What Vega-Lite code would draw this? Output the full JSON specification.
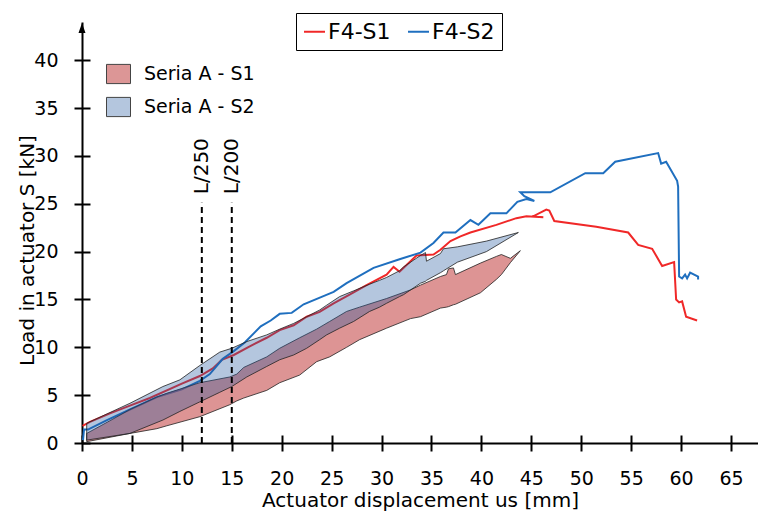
{
  "$schema": "https://vega.github.io/schema/vega-lite/v6.json",
  "width": 676,
  "height": 421,
  "autosize": {"type": "none"},
  "padding": {"left": 82, "top": 22, "right": 0, "bottom": 68},
  "datasets": {
    "lines": [
      {"s":"F4-S1","i":0,"x":0.05,"y":1.8},{"s":"F4-S1","i":1,"x":0.8,"y":2.2},{"s":"F4-S1","i":2,"x":2.8,"y":3.1},{"s":"F4-S1","i":3,"x":4.8,"y":3.9},{"s":"F4-S1","i":4,"x":6.8,"y":4.7},{"s":"F4-S1","i":5,"x":10.0,"y":6.2},{"s":"F4-S1","i":6,"x":11.8,"y":7.0},{"s":"F4-S1","i":7,"x":13.1,"y":7.8},{"s":"F4-S1","i":8,"x":14.0,"y":8.7},{"s":"F4-S1","i":9,"x":15.2,"y":9.2},{"s":"F4-S1","i":10,"x":16.8,"y":10.1},{"s":"F4-S1","i":11,"x":18.5,"y":11.0},{"s":"F4-S1","i":12,"x":19.8,"y":11.8},{"s":"F4-S1","i":13,"x":21.2,"y":12.3},{"s":"F4-S1","i":14,"x":22.5,"y":13.2},{"s":"F4-S1","i":15,"x":23.8,"y":13.7},{"s":"F4-S1","i":16,"x":25.2,"y":14.6},{"s":"F4-S1","i":17,"x":26.8,"y":15.5},{"s":"F4-S1","i":18,"x":28.5,"y":16.5},{"s":"F4-S1","i":19,"x":30.5,"y":17.6},{"s":"F4-S1","i":20,"x":31.2,"y":18.4},{"s":"F4-S1","i":21,"x":31.8,"y":17.9},{"s":"F4-S1","i":22,"x":33.5,"y":19.6},{"s":"F4-S1","i":23,"x":35.2,"y":19.7},{"s":"F4-S1","i":24,"x":35.9,"y":20.2},{"s":"F4-S1","i":25,"x":36.9,"y":21.1},{"s":"F4-S1","i":26,"x":37.9,"y":21.6},{"s":"F4-S1","i":27,"x":38.9,"y":22.0},{"s":"F4-S1","i":28,"x":41.5,"y":22.8},{"s":"F4-S1","i":29,"x":43.5,"y":23.5},{"s":"F4-S1","i":30,"x":44.5,"y":23.7},{"s":"F4-S1","i":31,"x":46.2,"y":23.6},{"s":"F4-S1","i":32,"x":45.2,"y":23.7},{"s":"F4-S1","i":33,"x":46.5,"y":24.4},{"s":"F4-S1","i":34,"x":46.8,"y":24.3},{"s":"F4-S1","i":35,"x":47.3,"y":23.2},{"s":"F4-S1","i":36,"x":51.5,"y":22.6},{"s":"F4-S1","i":37,"x":54.7,"y":22.0},{"s":"F4-S1","i":38,"x":55.7,"y":20.7},{"s":"F4-S1","i":39,"x":57.1,"y":20.3},{"s":"F4-S1","i":40,"x":58.1,"y":18.5},{"s":"F4-S1","i":41,"x":59.3,"y":18.9},{"s":"F4-S1","i":42,"x":59.5,"y":15.0},{"s":"F4-S1","i":43,"x":59.8,"y":14.7},{"s":"F4-S1","i":44,"x":60.1,"y":14.8},{"s":"F4-S1","i":45,"x":60.5,"y":13.2},{"s":"F4-S1","i":46,"x":61.6,"y":12.8},
      {"s":"F4-S2","i":0,"x":0.1,"y":0.3},{"s":"F4-S2","i":1,"x":0.2,"y":1.4},{"s":"F4-S2","i":2,"x":0.6,"y":1.4},{"s":"F4-S2","i":3,"x":2.5,"y":2.4},{"s":"F4-S2","i":4,"x":4.8,"y":3.5},{"s":"F4-S2","i":5,"x":7.5,"y":4.8},{"s":"F4-S2","i":6,"x":10.0,"y":5.6},{"s":"F4-S2","i":7,"x":11.8,"y":6.5},{"s":"F4-S2","i":8,"x":12.8,"y":7.2},{"s":"F4-S2","i":9,"x":14.1,"y":8.8},{"s":"F4-S2","i":10,"x":15.2,"y":9.6},{"s":"F4-S2","i":11,"x":16.3,"y":10.5},{"s":"F4-S2","i":12,"x":17.9,"y":12.2},{"s":"F4-S2","i":13,"x":18.9,"y":12.8},{"s":"F4-S2","i":14,"x":19.8,"y":13.5},{"s":"F4-S2","i":15,"x":21.0,"y":13.6},{"s":"F4-S2","i":16,"x":22.2,"y":14.5},{"s":"F4-S2","i":17,"x":24.3,"y":15.4},{"s":"F4-S2","i":18,"x":25.2,"y":15.8},{"s":"F4-S2","i":19,"x":26.5,"y":16.7},{"s":"F4-S2","i":20,"x":29.2,"y":18.3},{"s":"F4-S2","i":21,"x":31.8,"y":19.2},{"s":"F4-S2","i":22,"x":33.9,"y":19.9},{"s":"F4-S2","i":23,"x":35.2,"y":20.9},{"s":"F4-S2","i":24,"x":36.2,"y":22.0},{"s":"F4-S2","i":25,"x":37.4,"y":22.0},{"s":"F4-S2","i":26,"x":38.9,"y":23.3},{"s":"F4-S2","i":27,"x":39.7,"y":22.8},{"s":"F4-S2","i":28,"x":40.9,"y":24.0},{"s":"F4-S2","i":29,"x":42.5,"y":24.0},{"s":"F4-S2","i":30,"x":43.6,"y":25.2},{"s":"F4-S2","i":31,"x":44.5,"y":25.5},{"s":"F4-S2","i":32,"x":45.3,"y":25.3},{"s":"F4-S2","i":33,"x":44.3,"y":25.8},{"s":"F4-S2","i":34,"x":43.9,"y":26.2},{"s":"F4-S2","i":35,"x":46.9,"y":26.2},{"s":"F4-S2","i":36,"x":50.4,"y":28.2},{"s":"F4-S2","i":37,"x":52.2,"y":28.2},{"s":"F4-S2","i":38,"x":53.4,"y":29.4},{"s":"F4-S2","i":39,"x":57.7,"y":30.3},{"s":"F4-S2","i":40,"x":58.0,"y":29.2},{"s":"F4-S2","i":41,"x":58.5,"y":29.4},{"s":"F4-S2","i":42,"x":59.6,"y":27.4},{"s":"F4-S2","i":43,"x":59.7,"y":26.8},{"s":"F4-S2","i":44,"x":59.8,"y":17.4},{"s":"F4-S2","i":45,"x":60.1,"y":17.2},{"s":"F4-S2","i":46,"x":60.4,"y":17.6},{"s":"F4-S2","i":47,"x":60.6,"y":17.2},{"s":"F4-S2","i":48,"x":60.9,"y":17.8},{"s":"F4-S2","i":49,"x":61.7,"y":17.4},{"s":"F4-S2","i":50,"x":61.7,"y":17.1}
    ],
    "bands": [
      {"s":"Seria A - S1","x":0.47,"hi":1.0,"lo":0.14},{"s":"Seria A - S1","x":3.1,"hi":2.5,"lo":0.66},{"s":"Seria A - S1","x":4.8,"hi":3.5,"lo":1.0},{"s":"Seria A - S1","x":7.5,"hi":4.8,"lo":1.5},{"s":"Seria A - S1","x":8.5,"hi":5.2,"lo":1.8},{"s":"Seria A - S1","x":11.8,"hi":6.3,"lo":2.75},{"s":"Seria A - S1","x":14.8,"hi":6.9,"lo":4.0},{"s":"Seria A - S1","x":15.5,"hi":7.2,"lo":4.4},{"s":"Seria A - S1","x":16.2,"hi":7.9,"lo":4.7},{"s":"Seria A - S1","x":18.5,"hi":9.0,"lo":5.5},{"s":"Seria A - S1","x":19.8,"hi":9.9,"lo":6.3},{"s":"Seria A - S1","x":21.8,"hi":11.0,"lo":7.1},{"s":"Seria A - S1","x":23.5,"hi":11.9,"lo":8.5},{"s":"Seria A - S1","x":24.8,"hi":12.7,"lo":9.0},{"s":"Seria A - S1","x":26.5,"hi":13.75,"lo":10.0},{"s":"Seria A - S1","x":27.8,"hi":14.2,"lo":10.8},{"s":"Seria A - S1","x":30.5,"hi":15.1,"lo":12.0},{"s":"Seria A - S1","x":32.9,"hi":16.0,"lo":13.0},{"s":"Seria A - S1","x":33.9,"hi":16.5,"lo":13.2},{"s":"Seria A - S1","x":35.9,"hi":17.4,"lo":14.1},{"s":"Seria A - S1","x":36.5,"hi":17.6,"lo":14.2},{"s":"Seria A - S1","x":36.7,"hi":18.2,"lo":14.25},{"s":"Seria A - S1","x":37.2,"hi":18.3,"lo":14.45},{"s":"Seria A - S1","x":37.4,"hi":17.6,"lo":14.5},{"s":"Seria A - S1","x":39.9,"hi":18.8,"lo":15.7},{"s":"Seria A - S1","x":41.5,"hi":19.5,"lo":17.1},{"s":"Seria A - S1","x":42.0,"hi":19.7,"lo":17.6},{"s":"Seria A - S1","x":42.9,"hi":19.3,"lo":18.85},{"s":"Seria A - S1","x":43.9,"hi":20.1,"lo":20.1},
      {"s":"Seria A - S2","x":0.47,"hi":2.06,"lo":0.3},{"s":"Seria A - S2","x":4.8,"hi":4.15,"lo":1.0},{"s":"Seria A - S2","x":8.1,"hi":5.9,"lo":2.4},{"s":"Seria A - S2","x":9.8,"hi":6.6,"lo":3.3},{"s":"Seria A - S2","x":11.8,"hi":8.1,"lo":4.3},{"s":"Seria A - S2","x":13.8,"hi":9.5,"lo":5.3},{"s":"Seria A - S2","x":15.0,"hi":9.9,"lo":5.9},{"s":"Seria A - S2","x":16.5,"hi":10.6,"lo":6.9},{"s":"Seria A - S2","x":18.5,"hi":11.3,"lo":8.0},{"s":"Seria A - S2","x":19.8,"hi":11.9,"lo":8.7},{"s":"Seria A - S2","x":21.2,"hi":12.5,"lo":9.2},{"s":"Seria A - S2","x":22.5,"hi":13.2,"lo":9.9},{"s":"Seria A - S2","x":23.8,"hi":13.9,"lo":10.8},{"s":"Seria A - S2","x":24.5,"hi":14.4,"lo":11.3},{"s":"Seria A - S2","x":25.8,"hi":15.3,"lo":12.0},{"s":"Seria A - S2","x":27.2,"hi":15.9,"lo":12.7},{"s":"Seria A - S2","x":28.8,"hi":16.6,"lo":13.75},{"s":"Seria A - S2","x":29.8,"hi":17.0,"lo":14.2},{"s":"Seria A - S2","x":30.5,"hi":17.3,"lo":14.6},{"s":"Seria A - S2","x":31.8,"hi":18.0,"lo":15.3},{"s":"Seria A - S2","x":32.2,"hi":18.4,"lo":15.5},{"s":"Seria A - S2","x":33.9,"hi":19.6,"lo":16.7},{"s":"Seria A - S2","x":34.4,"hi":19.9,"lo":16.9},{"s":"Seria A - S2","x":34.5,"hi":19.0,"lo":17.0},{"s":"Seria A - S2","x":35.9,"hi":19.8,"lo":17.8},{"s":"Seria A - S2","x":36.2,"hi":20.3,"lo":18.0},{"s":"Seria A - S2","x":37.6,"hi":20.5,"lo":18.9},{"s":"Seria A - S2","x":40.5,"hi":21.1,"lo":20.0},{"s":"Seria A - S2","x":43.7,"hi":22.0,"lo":22.0}
    ],
    "bandnames": [
      {"n":"S1"},{"n":"S2"}
    ],
    "limits": [
      {"x":12,"label":"L/250"},{"x":15,"label":"L/200"}
    ]
  },
  "layer": [
    {
      "data": {"name": "lines"},
      "mark": {"type": "line", "strokeWidth": 2},
      "encoding": {
        "x": {"field": "x", "type": "quantitative",
          "scale": {"domain": [0, 67.7], "nice": false, "zero": false},
          "axis": {"orient": "bottom", "values": [0,5,10,15,20,25,30,35,40,45,50,55,60,65], "domain": true, "domainColor": "black", "domainWidth": 2, "ticks": false, "tickSize": 0, "labelPadding": 26, "labelFontSize": 19, "labelFlush": false, "grid": false,
            "title": "Actuator displacement us [mm]", "titleFontSize": 20, "titleY": 63, "titleBaseline": "alphabetic"}},
        "y": {"field": "y", "type": "quantitative",
          "scale": {"domain": [0, 44], "nice": false, "zero": false},
          "axis": {"orient": "left", "values": [0,5,10,15,20,25,30,35,40], "domain": true, "domainColor": "black", "domainWidth": 2, "ticks": false, "tickSize": 0, "labelPadding": 24, "labelFontSize": 19, "labelFlush": false, "grid": false,
            "title": "Load in actuator S [kN]", "titleFontSize": 20, "titleX": -49, "titleY": 228, "titleAngle": 270, "titleBaseline": "alphabetic", "titleAlign": "center"}},
        "stroke": {"field": "s", "type": "nominal",
          "scale": {"domain": ["F4-S1", "F4-S2"], "range": ["#f02828", "#1f6fbf"]},
          "legend": {"orient": "none", "legendX": 214, "legendY": -9, "direction": "horizontal", "title": null,
            "strokeColor": "black", "padding": 7, "symbolType": "stroke", "symbolSize": 441, "symbolStrokeWidth": 2,
            "labelFontSize": 22, "labelOffset": 2, "columnPadding": 13}},
        "order": {"field": "i", "type": "quantitative"}
      }
    },
    {
      "data": {"name": "bands"},
      "transform": [{"filter": "datum.s === 'Seria A - S1'"}],
      "mark": {"type": "area", "fillOpacity": 0.6, "stroke": "#222", "strokeWidth": 0.8},
      "encoding": {
        "x": {"field": "x", "type": "quantitative", "axis": null},
        "y": {"field": "hi", "type": "quantitative", "axis": null},
        "y2": {"field": "lo"},
        "color": {"field": "s", "type": "nominal",
          "scale": {"domain": ["Seria A - S1", "Seria A - S2"], "range": ["#c64d4d", "#23579e"]},
          "legend": null}
      }
    },
    {
      "data": {"name": "bands"},
      "transform": [{"filter": "datum.s === 'Seria A - S2'"}],
      "mark": {"type": "area", "fillOpacity": 0.34, "stroke": "#222", "strokeWidth": 0.8},
      "encoding": {
        "x": {"field": "x", "type": "quantitative", "axis": null},
        "y": {"field": "hi", "type": "quantitative", "axis": null},
        "y2": {"field": "lo"},
        "color": {"field": "s", "type": "nominal", "legend": null}
      }
    },
    {
      "data": {"name": "bandnames"},
      "mark": {"type": "point", "filled": true, "size": 0},
      "encoding": {
        "x": {"datum": 0, "type": "quantitative", "axis": null},
        "y": {"datum": 0, "type": "quantitative", "axis": null},
        "fill": {"field": "n", "type": "nominal",
          "scale": {"domain": ["S1", "S2"], "range": ["#dc9696", "#b4c6de"]},
          "legend": {"orient": "none", "legendX": 24, "legendY": 39.5, "direction": "vertical", "title": null, "padding": 0,
            "labelExpr": "'Seria A - ' + datum.label",
            "symbolType": "M-1,-0.8H1V0.8H-1Z", "symbolSize": 576, "symbolStrokeColor": "#444", "symbolStrokeWidth": 1, "symbolOpacity": 1,
            "labelFontSize": 19, "labelOffset": 13, "rowPadding": 8}}
      }
    },
    {
      "data": {"name": "limits"},
      "mark": {"type": "rule", "strokeWidth": 2, "strokeDash": [6, 4], "color": "black"},
      "encoding": {
        "x": {"field": "x", "type": "quantitative",
          "axis": {"orient": "bottom", "values": [0,5,10,15,20,25,30,35,40,45,50,55,60,65], "domain": false, "labels": false, "ticks": true, "tickSize": 16, "tickWidth": 2, "tickColor": "black", "offset": -8, "grid": false, "title": null}},
        "y": {"datum": 0, "type": "quantitative",
          "axis": {"orient": "left", "values": [0,5,10,15,20,25,30,35,40], "domain": false, "labels": false, "ticks": true, "tickSize": 16, "tickWidth": 2, "tickColor": "black", "offset": -8, "grid": false, "title": null}},
        "y2": {"datum": 25.1}
      }
    },
    {
      "data": {"name": "limits"},
      "mark": {"type": "text", "angle": 270, "align": "left", "baseline": "middle", "fontSize": 20, "font": "DejaVu Sans", "color": "black"},
      "encoding": {
        "x": {"field": "x", "type": "quantitative", "axis": null},
        "y": {"datum": 26, "type": "quantitative", "axis": null},
        "text": {"field": "label"}
      }
    },
    {
      "data": {"values": [{"x": 0, "y": 43.37}]},
      "mark": {"type": "point", "shape": "M0,-1L0.7,1L-0.7,1Z", "size": 100, "filled": true, "color": "black", "opacity": 1},
      "encoding": {
        "x": {"field": "x", "type": "quantitative", "axis": null},
        "y": {"field": "y", "type": "quantitative", "axis": null}
      }
    }
  ],
  "resolve": {"axis": {"x": "independent", "y": "independent"}},
  "config": {
    "view": {"stroke": null},
    "font": "DejaVu Sans",
    "axis": {"labelColor": "black", "titleColor": "black", "labelFont": "DejaVu Sans", "titleFont": "DejaVu Sans", "titleFontWeight": "normal", "grid": false},
    "legend": {"labelColor": "black", "labelFont": "DejaVu Sans"}
  }
}
